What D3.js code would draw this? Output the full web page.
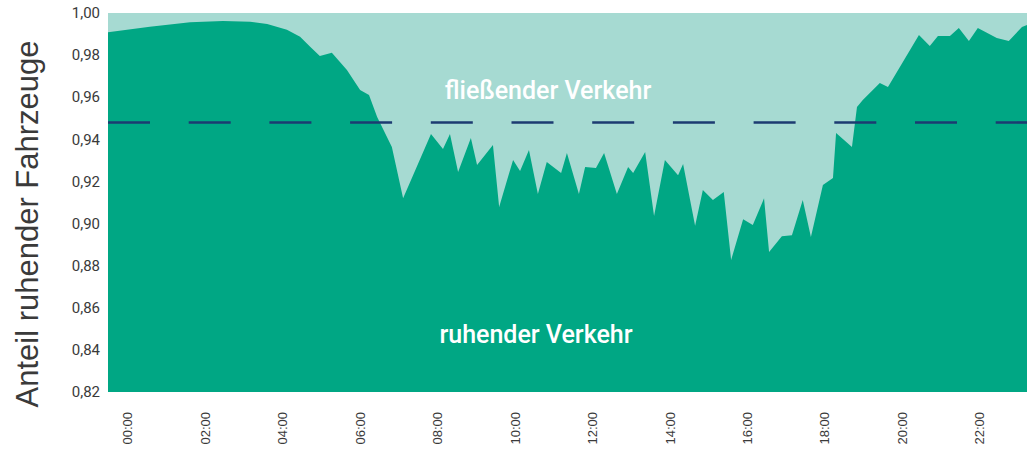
<!DOCTYPE html>
<html>
<head>
<meta charset="utf-8">
<script src="https://cdn.jsdelivr.net/npm/d3@7"></script>
<style>
  body { margin: 0; background: #fff; }
  svg { display: block; }
  .cond { font-family: Roboto, 'DejaVu Sans Condensed', sans-serif; }
</style>
</head>
<body>
<div id="chart"></div>
<script>
// time of day in hours, share of parked vehicles
const hours = [0.00, 1.08, 2.12, 2.97, 3.67, 4.11, 4.62, 4.96, 5.22, 5.47, 5.78, 6.17, 6.51, 6.74, 6.95, 7.33, 7.62,
  8.34, 8.65, 8.83, 9.04, 9.37, 9.53, 9.94, 10.10, 10.46, 10.64, 10.87, 11.10, 11.33, 11.70, 11.85, 12.16, 12.32,
  12.60, 12.81, 13.14, 13.43, 13.56, 13.87, 14.10, 14.38, 14.72, 14.85, 15.16, 15.36, 15.62, 15.90, 16.09, 16.40,
  16.65, 16.94, 17.07, 17.40, 17.66, 17.94, 18.15, 18.46, 18.72, 18.80, 19.21, 19.34, 19.49, 19.93, 20.14, 20.94,
  21.22, 21.43, 21.74, 21.97, 22.23, 22.46, 22.95, 23.26, 23.60, 23.73]
const share = [0.9908, 0.9935, 0.9956, 0.9962, 0.9958, 0.9948, 0.9920, 0.9887, 0.9840, 0.9796, 0.9811, 0.9729, 0.9634, 0.9610, 0.9506, 0.9364, 0.9120,
  0.9425, 0.9354, 0.9425, 0.9245, 0.9406, 0.9278, 0.9373, 0.9079, 0.9302, 0.9250, 0.9349, 0.9140, 0.9292,
  0.9240, 0.9335, 0.9140, 0.9269, 0.9264, 0.9335, 0.9140, 0.9269, 0.9240, 0.9340, 0.9036, 0.9302, 0.9230,
  0.9283, 0.8990, 0.9159, 0.9112, 0.9150, 0.8827, 0.9021, 0.8993, 0.9120, 0.8865, 0.8940, 0.8945, 0.9112,
  0.8936, 0.9183, 0.9216, 0.9430, 0.9364, 0.9553, 0.9587, 0.9668, 0.9649, 0.9896, 0.9843, 0.9891, 0.9891,
  0.9929, 0.9867, 0.9929, 0.9881, 0.9867, 0.9934, 0.9943]
const threshold = 0.948
const yTicks = [0.82, 0.84, 0.86, 0.88, 0.90, 0.92, 0.94, 0.96, 0.98, 1.00]
const xTicks = [0, 2, 4, 6, 8, 10, 12, 14, 16, 18, 20, 22]

const width = 1027
const height = 452
const margin = { top: 13, right: 0, bottom: 60, left: 108 }

const data = hours.map((h, i) => ({ h: h, v: share[i] }))

const x = d3.scaleLinear()
  .domain([0, 23.73])
  .range([margin.left, width - margin.right])

const y = d3.scaleLinear()
  .domain([0.82, 1.00])
  .range([height - margin.bottom, margin.top])

const svg = d3.select('#chart')
  .append('svg')
  .attr('width', width)
  .attr('height', height)

// background = flowing traffic
svg.append('rect')
  .attr('x', x(0))
  .attr('y', y(1))
  .attr('width', x(23.73) - x(0))
  .attr('height', y(0.82) - y(1))
  .attr('fill', '#a6dad2')

const area = d3.area()
  .x((d) => x(d.h))
  .y0(y(0.82))
  .y1((d) => y(d.v))

svg.append('path')
  .datum(data)
  .attr('d', area)
  .attr('fill', '#00a784')

svg.append('line')
  .attr('x1', x(0))
  .attr('x2', x(23.73))
  .attr('y1', y(threshold))
  .attr('y2', y(threshold))
  .attr('stroke', '#1c3b71')
  .attr('stroke-width', 2.6)
  .attr('stroke-dasharray', '42,38.7')

// y axis labels
svg.append('g')
  .selectAll('text')
  .data(yTicks)
  .enter()
  .append('text')
  .attr('class', 'cond')
  .attr('x', 100)
  .attr('y', (d) => y(d))
  .attr('dy', '0.35em')
  .attr('text-anchor', 'end')
  .attr('font-size', 15)
  .attr('fill', '#3a3a3a')
  .text((d) => d3.format('.2f')(d).replace('.', ','))

// x axis labels (centered in the hour band)
svg.append('g')
  .selectAll('text')
  .data(xTicks)
  .enter()
  .append('text')
  .attr('transform', (d) => 'translate(' + (x(d + 0.5) + 5) + ',412) rotate(-90)')
  .attr('text-anchor', 'end')
  .attr('font-family', 'Liberation Sans, Arial, sans-serif')
  .attr('font-size', 13)
  .attr('fill', '#3a3a3a')
  .text((d) => d3.format('02d')(d) + ':00')

svg.append('text')
  .attr('transform', 'translate(38,224) rotate(-90)')
  .attr('text-anchor', 'middle')
  .attr('font-family', 'Liberation Sans, Arial, sans-serif')
  .attr('font-size', 31)
  .attr('fill', '#3a3a3a')
  .text('Anteil ruhender Fahrzeuge')

svg.append('text')
  .attr('class', 'cond')
  .attr('x', 548)
  .attr('y', 99)
  .attr('text-anchor', 'middle')
  .attr('font-weight', 500)
  .attr('font-size', 25)
  .attr('fill', '#fff')
  .text('fließender Verkehr')

svg.append('text')
  .attr('class', 'cond')
  .attr('x', 536)
  .attr('y', 343)
  .attr('text-anchor', 'middle')
  .attr('font-weight', 500)
  .attr('font-size', 25)
  .attr('fill', '#fff')
  .text('ruhender Verkehr')
</script>
</body>
</html>
